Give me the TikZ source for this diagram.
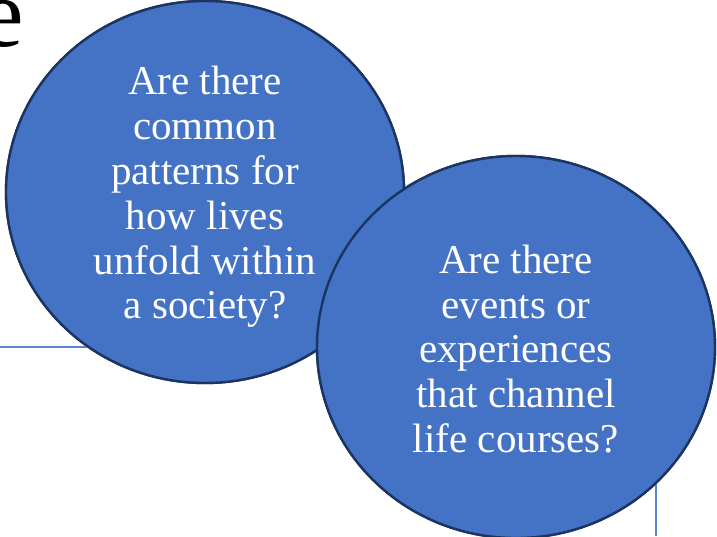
\documentclass[tikz,border=0pt]{standalone}
\usepackage{fontspec}
\setmainfont{Liberation Serif}
\usetikzlibrary{shapes.geometric}
\definecolor{bubblefill}{HTML}{4472C4}
\definecolor{bubbleedge}{HTML}{1C3461}
\definecolor{rulecol}{HTML}{5B86D0}
\begin{document}
\begin{tikzpicture}[x=1pt, y=-1pt,
  bubble/.style={ellipse, draw=bubbleedge, fill=bubblefill, line width=2.4pt,
    minimum width=398pt, minimum height=382pt, inner sep=0pt},
  qtext/.style={text=white, align=center, inner sep=0pt,
    font=\fontsize{41}{44.8}\selectfont},
  rule/.style={draw=rulecol, line width=1.8pt}]
  \useasboundingbox (0,0) rectangle (717,536);
  \clip (0,0) rectangle (717,536);
  \node[anchor=base east, inner sep=0pt, font=\fontsize{98}{98}\selectfont] (title) at (24,46) {e};
  \coordinate (hl) at (0,347);
  \coordinate (vl) at (656,536);
  \node[bubble] (c1) at (205,192) {};
  \node[bubble] (c2) at (516,347) {};
    \draw[rule] (hl) -- (hl -| c1);
    \draw[rule] (vl) -- (vl |- c2);
  \node[bubble] at (c1) {};
  \node[qtext] (q1) at (205,197) {Are there\\common\\patterns for\\how lives\\unfold within\\a society?};
  \node[bubble] at (c2) {};
  \node[qtext] (q2) at (516,349) {Are there\\events or\\experiences\\that channel\\life courses?};
\end{tikzpicture}
\end{document}
